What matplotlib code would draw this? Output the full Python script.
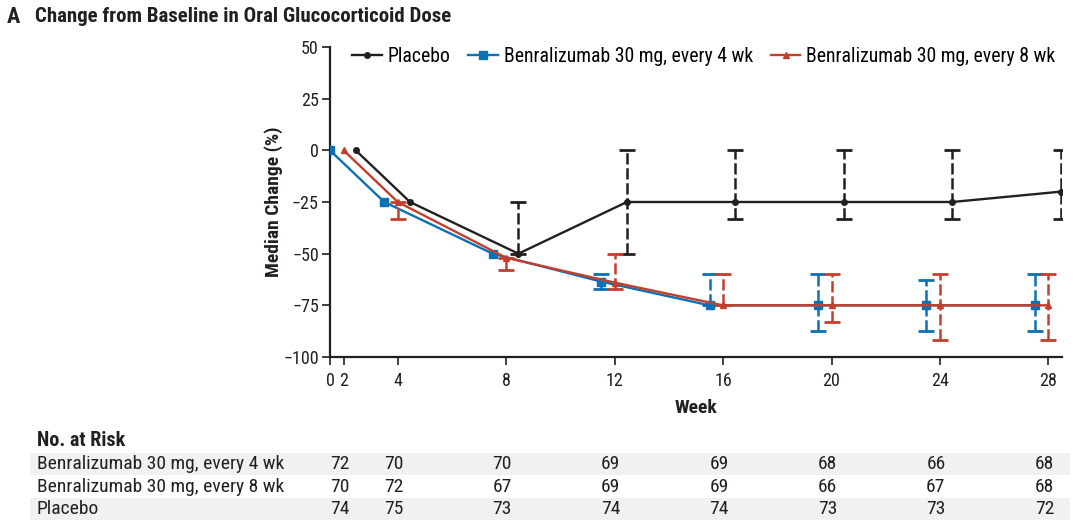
import matplotlib
matplotlib.use("Agg")
import matplotlib.pyplot as plt
import matplotlib.transforms as mtransforms
from matplotlib.patches import Rectangle

plt.rcParams['font.family'] = ['Roboto Condensed', 'Lato', 'DejaVu Sans']
plt.rcParams['axes.unicode_minus'] = True

# data
weeks = [0, 4, 8, 12, 16, 20, 24, 28]

placebo = [0, -25, -50, -25, -25, -25, -25, -20]
placebo_hi = [0, -25, -25, 0, 0, 0, 0, 0]
placebo_lo = [0, -25, -50, -50, -33, -33, -33, -33]

q4w = [0, -25, -50, -63.5, -75, -75, -75, -75]
q4w_hi = [0, -25, -50, -60, -60, -60, -62.5, -60]
q4w_lo = [0, -25, -50, -67, -75, -87.5, -87.5, -87.5]

q8w = [0, -25, -52, -64, -75, -75, -75, -75]
q8w_hi = [0, -25, -52, -50, -60, -60, -60, -60]
q8w_lo = [0, -33, -58, -67, -75, -83, -92, -92]

risk_labels = ["Benralizumab 30 mg, every 4 wk", "Benralizumab 30 mg, every 8 wk", "Placebo"]
risk_q4w = [72, 70, 70, 69, 69, 68, 66, 68]
risk_q8w = [70, 72, 67, 69, 69, 66, 67, 68]
risk_placebo = [74, 75, 73, 74, 74, 73, 73, 72]

BLACK = '#231f20'
BLUE = '#0a71b3'
RED = '#c43e2e'


def xpos(w, offset=0.0):
    # week 0 is drawn squeezed next to week 2
    return (2.0 if w == 0 else w) + offset


fig = plt.figure(figsize=(10.8, 5.31), dpi=100)
ax = fig.add_axes([330 / 1080, 1 - 357 / 531, 732 / 1080, 310 / 531])


def draw_series(vals, hi, lo, color, marker, ms, offset, label, z):
    xs = [xpos(w, offset) for w in weeks]
    ax.plot(xs, vals, color=color, lw=1.7, marker=marker, ms=ms, label=label, zorder=z)
    err = [[v - l for v, l in zip(vals, lo)], [h - v for v, h in zip(vals, hi)]]
    keep = [i for i in range(len(vals)) if err[0][i] > 0 or err[1][i] > 0]
    _, caps, bars = ax.errorbar([xs[i] for i in keep], [vals[i] for i in keep],
                                yerr=[[err[0][i] for i in keep], [err[1][i] for i in keep]],
                                fmt='none', ecolor=color, elinewidth=1.8, capsize=5.5,
                                capthick=2, zorder=z)
    for b in bars:
        b.set_linestyle((0, (4.5, 1.5)))


draw_series(placebo, placebo_hi, placebo_lo, BLACK, 'o', 4, 0.45, "Placebo", 3)
draw_series(q4w, q4w_hi, q4w_lo, BLUE, 's', 6, -0.5, "Benralizumab 30 mg, every 4 wk", 4)
draw_series(q8w, q8w_hi, q8w_lo, RED, '^', 5, 0.0, "Benralizumab 30 mg, every 8 wk", 5)

ax.set_xlim(1.5, 28.5)
ax.set_ylim(-100, 50)
ax.set_xticks([1.5, 2, 4, 8, 12, 16, 20, 24, 28])
ax.set_xticklabels(['0', '2', '4', '8', '12', '16', '20', '24', '28'])
ax.set_yticks([-100, -75, -50, -25, 0, 25, 50])
ax.set_yticklabels(['\u2212100', '\u221275', '\u221250', '\u221225', '0', '25', '50'])
for s in ['top', 'right']:
    ax.spines[s].set_visible(False)
for s in ['left', 'bottom']:
    ax.spines[s].set_linewidth(1.6)
    ax.spines[s].set_color(BLACK)
ax.tick_params(axis='both', direction='out', length=6, width=1.2, colors=BLACK,
               labelsize=13, labelcolor=BLACK)
ax.tick_params(axis='x', pad=5)
ax.tick_params(axis='y', pad=2)
ax.set_ylabel("Median Change (%)", fontsize=14, fontweight='bold', color=BLACK, labelpad=0)
ax.set_xlabel("Week", fontsize=14, fontweight='bold', color=BLACK, labelpad=6)

ax.legend(loc='upper right', bbox_to_anchor=(1.01, 1.045), ncol=3, frameon=False,
          fontsize=14.2, handlelength=1.5, handletextpad=0.3, columnspacing=0.9,
          borderaxespad=0.3)

fig.text(7 / 1080, 1 - 17 / 531, "A", fontsize=16, fontweight='bold', color=BLACK, va='center')
fig.text(35 / 1080, 1 - 17 / 531, "Change from Baseline in Oral Glucocorticoid Dose",
         fontsize=15, fontweight='bold', color=BLACK, va='center')

# number at risk table
fig.text(37 / 1080, 1 - 440 / 531, "No. at Risk", fontsize=14.5, fontweight='bold',
         color=BLACK, va='center')
trans = mtransforms.blended_transform_factory(ax.transData, fig.transFigure)
row_y = [464, 487, 509]
for i, y in enumerate(row_y):
    if i != 1:
        fig.patches.append(Rectangle((30 / 1080, 1 - (y + 11) / 531), 1040 / 1080, 22 / 531,
                                     transform=fig.transFigure, facecolor='#f1f1f1',
                                     edgecolor='none', zorder=0))
for label, counts, y in zip(risk_labels, [risk_q4w, risk_q8w, risk_placebo], row_y):
    fig.text(37 / 1080, 1 - y / 531, label, fontsize=14, color=BLACK, va='center')
    for w, n in zip(weeks, counts):
        fig.text(xpos(w, -0.15), 1 - y / 531, str(n), transform=trans, fontsize=14,
                 color=BLACK, ha='center', va='center')

fig.savefig("out.png", dpi=100)
